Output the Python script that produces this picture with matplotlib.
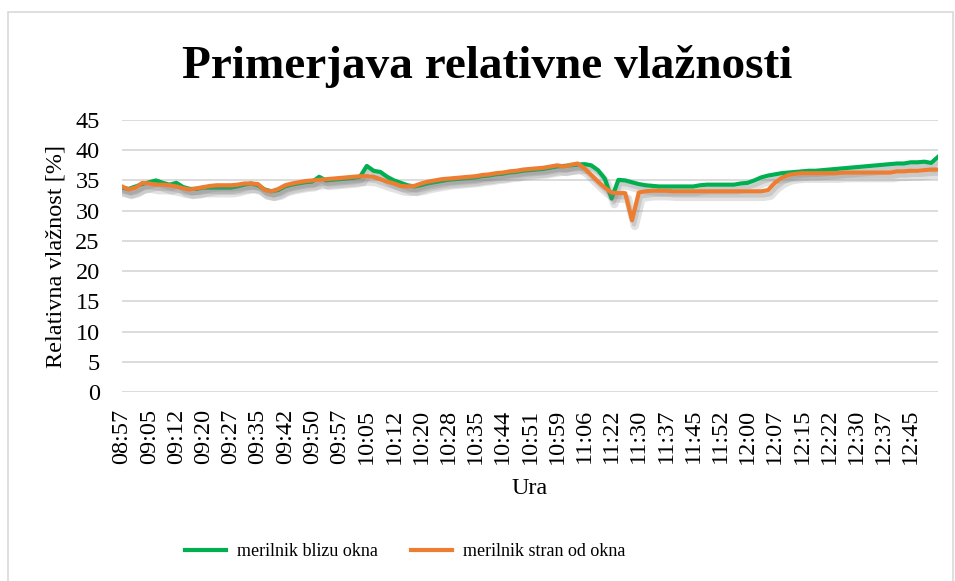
import matplotlib
matplotlib.use("Agg")
import matplotlib.pyplot as plt
import matplotlib.patheffects as pe
from matplotlib.patches import Rectangle
import numpy as np

plt.rcParams['font.family'] = ['Liberation Serif', 'DejaVu Serif']

# time labels shown on the category axis (every 4th sample)
time_labels = ["08:57", "09:05", "09:12", "09:20", "09:27", "09:35", "09:42", "09:50",
               "09:57", "10:05", "10:12", "10:20", "10:28", "10:35", "10:44", "10:51",
               "10:59", "11:06", "11:22", "11:30", "11:37", "11:45", "11:52", "12:00",
               "12:07", "12:15", "12:22", "12:30", "12:37", "12:45"]
label_step = 4

# relative humidity [%]
blizu_okna = [33.8, 33.6, 34.0, 34.4, 34.7, 35.0, 34.6, 34.3, 34.6, 33.9,
              33.6, 33.6, 33.8, 33.8, 33.8, 33.8, 33.8, 34.0, 34.3, 34.5,
              34.2, 33.5, 33.2, 33.4, 34.0, 34.3, 34.5, 34.7, 34.8, 35.6,
              35.0, 35.1, 35.2, 35.3, 35.4, 35.6, 37.4, 36.6, 36.4, 35.6,
              35.0, 34.6, 34.2, 34.0, 34.2, 34.5, 34.7, 34.9, 35.1, 35.2,
              35.3, 35.4, 35.5, 35.7, 35.8, 36.0, 36.1, 36.3, 36.4, 36.6,
              36.7, 36.8, 36.9, 37.1, 37.3, 37.4, 37.5, 37.6, 37.7, 37.5,
              36.7, 35.3, 32.0, 35.1, 35.0, 34.7, 34.4, 34.2, 34.1, 34.0,
              34.0, 34.0, 34.0, 34.0, 34.0, 34.2, 34.3, 34.3, 34.3, 34.3,
              34.3, 34.5, 34.6, 35.0, 35.5, 35.8, 36.0, 36.2, 36.3, 36.4,
              36.5, 36.6, 36.6, 36.7, 36.8, 36.9, 37.0, 37.1, 37.2, 37.3,
              37.4, 37.5, 37.6, 37.7, 37.8, 37.8, 38.0, 38.0, 38.1, 37.9,
              38.9]

stran_od_okna = [34.0, 33.5, 33.8, 34.6, 34.5, 34.3, 34.3, 34.2, 34.0, 33.7,
                 33.5, 33.7, 33.9, 34.1, 34.2, 34.2, 34.2, 34.3, 34.5, 34.5,
                 34.4, 33.4, 33.2, 33.6, 34.2, 34.5, 34.7, 34.9, 35.0, 35.1,
                 35.2, 35.3, 35.4, 35.5, 35.6, 35.7, 35.7, 35.6, 35.2, 34.8,
                 34.5, 34.1, 34.0, 34.1, 34.5, 34.8, 35.0, 35.2, 35.3, 35.4,
                 35.5, 35.6, 35.7, 35.9, 36.0, 36.2, 36.3, 36.5, 36.6, 36.8,
                 36.9, 37.0, 37.1, 37.3, 37.5, 37.3, 37.6, 37.8, 37.0, 35.9,
                 34.8, 33.8, 33.0, 32.9, 32.9, 28.4, 33.0, 33.2, 33.3, 33.3,
                 33.3, 33.2, 33.2, 33.2, 33.2, 33.2, 33.2, 33.2, 33.2, 33.2,
                 33.2, 33.2, 33.2, 33.2, 33.2, 33.4, 34.6, 35.4, 35.9, 36.1,
                 36.2, 36.2, 36.2, 36.2, 36.2, 36.2, 36.3, 36.3, 36.3, 36.3,
                 36.3, 36.3, 36.3, 36.3, 36.5, 36.5, 36.6, 36.6, 36.7, 36.8,
                 36.8]

x = np.arange(len(blizu_okna))

fig = plt.figure(figsize=(9.55, 5.81), dpi=100)
ax = fig.add_axes([122/955, 189/581, 816/955, 272/581])

shadow = [pe.SimpleLineShadow(offset=(2, -4), shadow_color='#7f7f7f', alpha=0.22, linewidth=6),
          pe.SimpleLineShadow(offset=(1.5, -3), shadow_color='#7f7f7f', alpha=0.25),
          pe.Normal()]

ax.plot(x, blizu_okna, color='#00B050', lw=3, label='merilnik blizu okna', path_effects=shadow)
ax.plot(x, stran_od_okna, color='#ED7D31', lw=3, label='merilnik stran od okna', path_effects=shadow)

ax.set_xlim(0, len(x) - 1)
ax.set_ylim(0, 45)
ax.set_yticks(np.arange(0, 46, 5))
ax.set_xticks(x[::label_step][:len(time_labels)])
ax.set_xticklabels(time_labels, rotation=90)
ax.tick_params(axis='both', length=0, labelsize=17.5)
ax.tick_params(axis='x', pad=12)
ax.tick_params(axis='y', pad=16)
ax.grid(axis='y', color='#D9D9D9', lw=1.3)
ax.set_axisbelow(True)
for s in ax.spines.values():
    s.set_visible(False)

ax.set_ylabel('Relativna vlažnost [%]', fontsize=17.5, labelpad=6)
ax.set_xlabel('Ura', fontsize=17.5, labelpad=10)

fig.text(487/955, 1 - 66/581, 'Primerjava relativne vlažnosti', fontsize=34,
         fontweight='bold', ha='center', va='center')

leg = fig.legend(loc='center', bbox_to_anchor=(405/955, 1 - 552/581), ncol=2, frameon=False,
                 fontsize=13, handlelength=2.3, columnspacing=1.8, handletextpad=0.6)
for ln in leg.get_lines():
    ln.set_path_effects([])
    ln.set_linewidth(3)

# chart area border
fig.patches.append(Rectangle((8/955, -0.01), 945/955, 1 - 12/581 + 0.01, transform=fig.transFigure,
                             fill=False, edgecolor='#D9D9D9', lw=1.2))

fig.savefig('out.png', dpi=100)
